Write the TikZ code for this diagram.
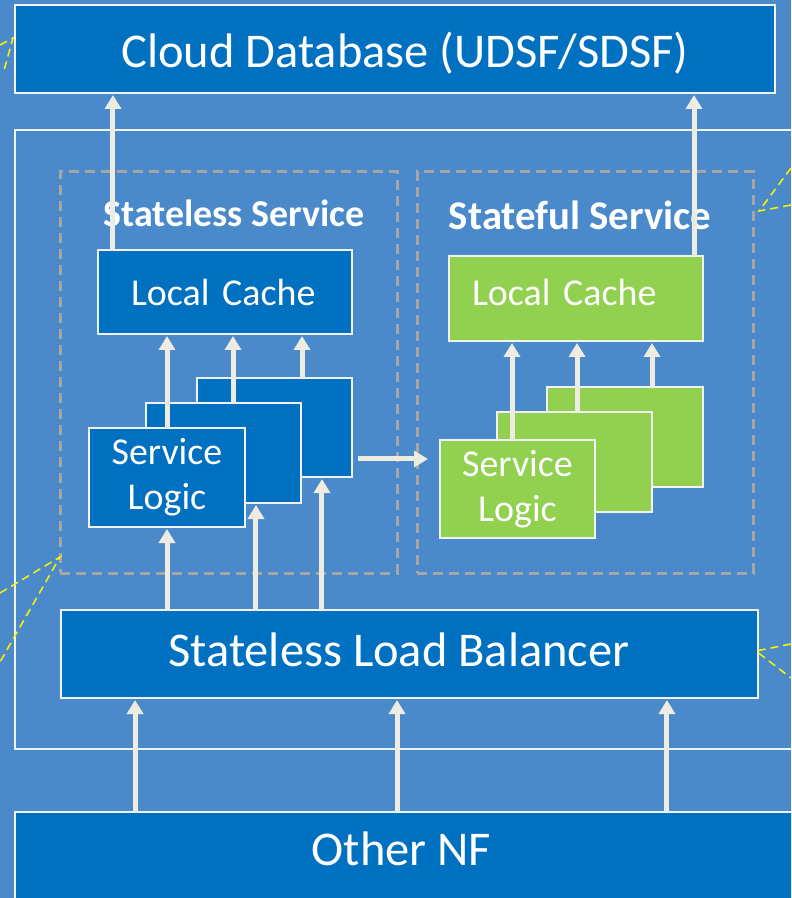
\documentclass[tikz,border=0pt]{standalone}
\usepackage{fontspec}
\setmainfont{Carlito}
\usetikzlibrary{arrows.meta}

\definecolor{bgblue}{RGB}{74,138,203}
\definecolor{nfblue}{RGB}{0,112,192}
\definecolor{nfgreen}{RGB}{146,208,80}
\definecolor{edge}{RGB}{242,242,242}
\definecolor{arrowcream}{RGB}{238,236,225}
\definecolor{dashgray}{RGB}{166,166,166}

\begin{document}
\begin{tikzpicture}[x=0.02cm,y=-0.02cm,
	nfbox/.style={draw=edge,line width=0.04cm,fill=nfblue,text=white,inner sep=0pt,outer sep=0pt},
	gbox/.style={nfbox,fill=nfgreen},
	svcframe/.style={draw=dashgray,line width=0.06cm,dash pattern=on 0.2cm off 0.12cm,inner sep=0pt},
	arr/.style={draw=arrowcream,line width=0.1cm,-{Triangle[length=0.28cm,width=0.32cm]},shorten >=0.04cm},
	callout/.style={draw=yellow,line width=0.03cm,dash pattern=on 0.16cm off 0.1cm},
	bigtext/.style={font=\fontsize{27.6}{32}\selectfont,text=white,anchor=base},
	midtext/.style={font=\fontsize{21.6}{25.5}\selectfont},
	ttl/.style={font=\fontsize{21.6}{25}\selectfont\bfseries,text=white,anchor=base}]
	\newcommand\pxl{0.02cm}

	\useasboundingbox (0,0) rectangle (791,898);
	\fill[bgblue] (0,0) rectangle (791,898);
	\clip (0,0) rectangle (791,898);

	% top and bottom
	\node[nfbox,minimum width=760*\pxl,minimum height=88*\pxl] (cloud) at (395,49) {};
	\node[bigtext] (cloudtext) at (405,68) {Cloud Database (UDSF/SDSF)};
	\node[nfbox,minimum width=790*\pxl,minimum height=100*\pxl] (onf) at (410,862) {};
	\node[bigtext] (onftext) at (401.5,865) {Other NF};

	% NF frame
	\draw[draw=edge,line width=0.04cm] (800,130) -| (15,749) -- (800,749);

	\node[svcframe,minimum width=337*\pxl,minimum height=401*\pxl] (lessframe) at (228.5,372.5) {};
	\node[svcframe,minimum width=336*\pxl,minimum height=401*\pxl] (fulframe) at (585,372.5) {};
	\node[ttl] (lesstitle) at (234,227) {Stateless Service};
	\node[ttl,font=\fontsize{23.2}{27}\selectfont\bfseries] (fultitle) at (580,230) {Stateful Service};

	\node[nfbox,midtext,minimum width=254*\pxl,minimum height=84*\pxl,text width=188*\pxl,align=left,inner xsep=0.66cm] (lesscache) at (225,292) {Local Cache};
	\node[gbox,midtext,minimum width=254*\pxl,minimum height=85*\pxl,text width=208*\pxl,align=left,inner xsep=0.46cm,text depth=0.24cm] (fulcache) at (576,298.5) {Local Cache};

	% service logic stacks
	\node[nfbox,minimum width=155*\pxl,minimum height=99*\pxl] (lesslogicc) at (274.5,427.5) {};
	\node[nfbox,minimum width=155*\pxl,minimum height=100*\pxl] (lesslogicb) at (223.5,453) {};
	\node[nfbox,midtext,align=center,minimum width=156*\pxl,minimum height=99*\pxl] (lesslogica) at (167,477.5) {Service\\Logic};

	\node[gbox,minimum width=156*\pxl,minimum height=100*\pxl] (fullogicc) at (625,437) {};
	\node[gbox,minimum width=155*\pxl,minimum height=100*\pxl] (fullogicb) at (574.5,462) {};
	\node[gbox,midtext,align=center,minimum width=155*\pxl,minimum height=98*\pxl] (fullogica) at (517.5,489) {Service\\Logic};

	\node[nfbox,minimum width=697*\pxl,minimum height=88*\pxl] (lb) at (409.5,654) {};
	\node[bigtext] (lbtext) at (399,666) {Stateless Load Balancer};

	% arrows
	\draw[arr] ([xshift=0.3cm]lesscache.north west) -- ([xshift=0.3cm]lesscache.north west |- cloud.south);
	\draw[arr] ([xshift=-0.18cm]fulcache.north east) -- ([xshift=-0.18cm]fulcache.north east |- cloud.south);

	\draw[arr] (lesslogica.north) -- (lesslogica.north |- lesscache.south);
	\draw[arr] ([xshift=0.19cm]lesslogicb.north) -- ([xshift=0.19cm]lesslogicb.north |- lesscache.south);
	\draw[arr] ([xshift=0.55cm]lesslogicc.north) -- ([xshift=0.55cm]lesslogicc.north |- lesscache.south);

	\draw[arr] ([xshift=-0.11cm]fullogica.north) -- ([xshift=-0.11cm]fullogica.north |- fulcache.south);
	\draw[arr] ([xshift=0.05cm]fullogicb.north) -- ([xshift=0.05cm]fullogicb.north |- fulcache.south);
	\draw[arr] ([xshift=0.54cm]fullogicc.north) -- ([xshift=0.54cm]fullogicc.north |- fulcache.south);

	\draw[arr] ([xshift=0.12cm,yshift=-0.63cm]lesslogicc.east) -- ([xshift=-0.2cm,yshift=-0.63cm]lesslogicc.east -| fullogica.west);

	\draw[arr] (lesslogica.south |- lb.north) -- (lesslogica.south);
	\draw[arr] ([xshift=0.65cm]lesslogicb.south |- lb.north) -- ([xshift=0.65cm]lesslogicb.south);
	\draw[arr] ([xshift=0.95cm]lesslogicc.south |- lb.north) -- ([xshift=0.95cm]lesslogicc.south);

	\foreach \dx in {-5.49,-0.25,5.15}
		\draw[arr] ([xshift=\dx cm]lb.south |- onf.north) -- ([xshift=\dx cm]lb.south);

	% callout leftovers
	\draw[callout] (0,45) -- (13,38) -- (3,74);
	\draw[callout] (791,168) -- (759,211) -- (791,205);
	\draw[callout] (0,593) -- (60,557) -- (0,662);
	\draw[callout] (791,644) -- (756,651) -- (791,678);
\end{tikzpicture}
\end{document}
